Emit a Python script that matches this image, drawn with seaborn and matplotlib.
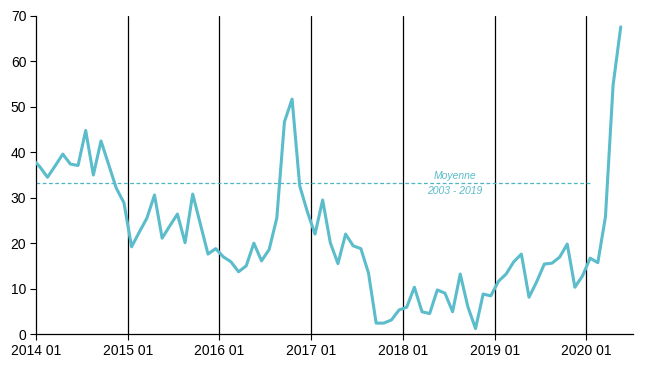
import numpy as np
import pandas as pd
import seaborn as sns
import matplotlib
matplotlib.use("Agg")
import matplotlib.pyplot as plt

# Monthly series, Dec 2013 .. May 2020
start_month = "2013-12"
values = [
    38.6,
    36.8, 34.5, 37.0, 39.6, 37.4, 37.1, 44.8, 35.0, 42.5, 37.3, 32.1, 28.9,  # 2014
    19.2, 22.4, 25.5, 30.6, 21.1, 23.8, 26.4, 20.1, 30.8, 24.2, 17.6, 18.8,  # 2015
    17.0, 15.9, 13.7, 15.0, 20.0, 16.1, 18.6, 25.5, 46.7, 51.7, 32.6, 26.9,  # 2016
    22.0, 29.5, 20.1, 15.5, 22.0, 19.4, 18.8, 13.4, 2.4, 2.4, 3.1, 5.3,      # 2017
    5.9, 10.3, 4.9, 4.5, 9.7, 9.0, 4.9, 13.2, 6.0, 1.2, 8.8, 8.4,            # 2018
    11.6, 13.2, 15.9, 17.6, 8.1, 11.5, 15.4, 15.6, 16.9, 19.8, 10.3, 12.8,   # 2019
    16.7, 15.7, 25.8, 54.8, 67.6,                                           # 2020
]
year_labels = ["2014 01", "2015 01", "2016 01", "2017 01", "2018 01", "2019 01", "2020 01"]
average_value = 33.2
average_label = "Moyenne\n2003 - 2019"

line_color = "#5bbccb"

dates = pd.period_range(start_month, periods=len(values), freq="M")
base = pd.Period("2014-01", freq="M")
df = pd.DataFrame({
    "date": dates.astype(str),
    # points sit in the middle of each month
    "pos": [(d - base).n + 0.5 for d in dates],
    "value": values,
})

sns.set_style("white")
plt.rcParams["font.family"] = ["Liberation Sans", "DejaVu Sans"]
plt.rcParams["text.color"] = "black"
plt.rcParams["xtick.color"] = "black"
plt.rcParams["ytick.color"] = "black"

fig = plt.figure(figsize=(6.61, 3.77), dpi=100)
ax = fig.add_axes([0.0545, 0.114, 0.9031, 0.8436])

year_pos = np.arange(len(year_labels)) * 12

# year separators
for p in year_pos[1:]:
    ax.axvline(p, color="black", lw=0.9, zorder=1)

# long-run average
ax.plot([0, year_pos[-1] + 0.5], [average_value, average_value],
        ls=(0, (3, 2)), color="#4fb3c4", lw=0.9, zorder=2)
ax.text(54.8, average_value, average_label, color=line_color, fontsize=7.5,
        style="italic", ha="center", va="center", linespacing=1.6, zorder=3)

sns.lineplot(data=df, x="pos", y="value", ax=ax, color=line_color, lw=2.2, zorder=4)

ax.set_xlim(0, 78.1)
ax.set_ylim(0, 70)
ax.set_xticks(year_pos)
ax.set_xticklabels(year_labels)
ax.set_yticks(np.arange(0, 71, 10))
ax.set_xlabel("")
ax.set_ylabel("")
ax.tick_params(axis="both", labelsize=10, length=4, width=0.8, color="black",
               labelcolor="black", direction="out", bottom=True, left=True, pad=3)

for side in ["top", "right"]:
    ax.spines[side].set_visible(False)
for side in ["left", "bottom"]:
    ax.spines[side].set_color("black")
    ax.spines[side].set_linewidth(0.9)

fig.savefig("out.png", dpi=100)
